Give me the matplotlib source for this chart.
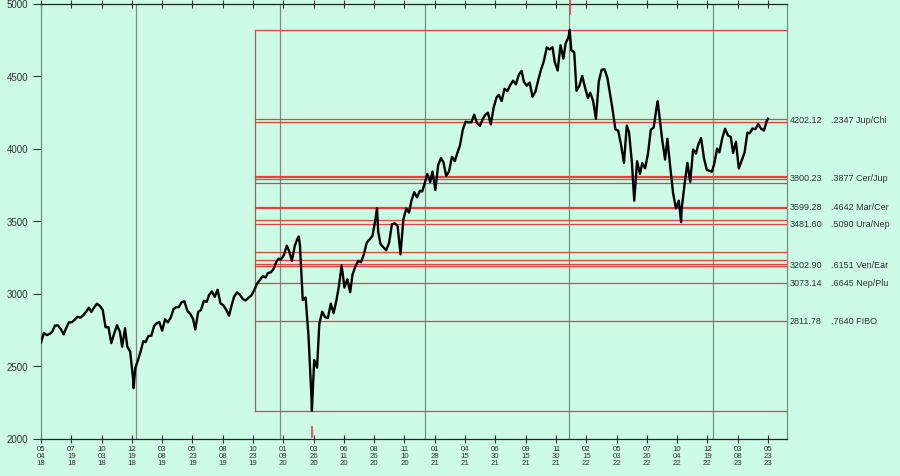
import numpy as np
import matplotlib
matplotlib.use("Agg")
from matplotlib import pyplot as plt

plt.rcParams['font.family'] = ['Liberation Sans', 'DejaVu Sans']

# weekly-ish S&P 500 closes (plus the swing extremes)
price_dates = [
    '2018-05-04', '2018-05-11', '2018-05-18', '2018-05-25', '2018-06-01', '2018-06-08', '2018-06-15', '2018-06-22',
    '2018-06-29', '2018-07-06', '2018-07-13', '2018-07-20', '2018-07-27', '2018-08-03', '2018-08-10', '2018-08-17',
    '2018-08-24', '2018-08-31', '2018-09-07', '2018-09-14', '2018-09-21', '2018-09-28', '2018-10-05', '2018-10-12',
    '2018-10-19', '2018-10-26', '2018-11-02', '2018-11-09', '2018-11-16', '2018-11-23', '2018-11-30', '2018-12-07',
    '2018-12-14', '2018-12-21', '2018-12-24', '2018-12-28',
    '2019-01-04', '2019-01-11', '2019-01-18', '2019-01-25', '2019-02-01', '2019-02-08', '2019-02-15', '2019-02-22',
    '2019-03-01', '2019-03-08', '2019-03-15', '2019-03-22', '2019-03-29', '2019-04-05', '2019-04-12', '2019-04-18',
    '2019-04-26', '2019-05-03', '2019-05-10', '2019-05-17', '2019-05-24', '2019-05-31', '2019-06-07', '2019-06-14',
    '2019-06-21', '2019-06-28', '2019-07-05', '2019-07-12', '2019-07-19', '2019-07-26', '2019-08-02', '2019-08-09',
    '2019-08-16', '2019-08-23', '2019-08-30', '2019-09-06', '2019-09-13', '2019-09-20', '2019-09-27', '2019-10-04',
    '2019-10-11', '2019-10-18', '2019-10-25', '2019-11-01', '2019-11-08', '2019-11-15', '2019-11-22', '2019-11-29',
    '2019-12-06', '2019-12-13', '2019-12-20', '2019-12-27',
    '2020-01-03', '2020-01-10', '2020-01-17', '2020-01-24', '2020-01-31', '2020-02-07', '2020-02-14', '2020-02-19',
    '2020-02-21', '2020-02-28', '2020-03-06', '2020-03-13', '2020-03-20', '2020-03-23', '2020-03-27', '2020-04-03',
    '2020-04-09', '2020-04-17', '2020-04-24', '2020-05-01', '2020-05-08', '2020-05-15', '2020-05-22', '2020-05-29',
    '2020-06-05', '2020-06-12', '2020-06-19', '2020-06-26', '2020-07-02', '2020-07-10', '2020-07-17', '2020-07-24',
    '2020-07-31', '2020-08-07', '2020-08-14', '2020-08-21', '2020-08-28', '2020-09-02', '2020-09-04', '2020-09-11',
    '2020-09-18', '2020-09-25', '2020-10-02', '2020-10-09', '2020-10-16', '2020-10-23', '2020-10-30', '2020-11-06',
    '2020-11-13', '2020-11-20', '2020-11-27', '2020-12-04', '2020-12-11', '2020-12-18', '2020-12-24', '2020-12-31',
    '2021-01-08', '2021-01-15', '2021-01-22', '2021-01-29', '2021-02-05', '2021-02-12', '2021-02-19', '2021-02-26',
    '2021-03-05', '2021-03-12', '2021-03-19', '2021-03-26', '2021-04-01', '2021-04-09', '2021-04-16', '2021-04-23',
    '2021-04-30', '2021-05-07', '2021-05-14', '2021-05-21', '2021-05-28', '2021-06-04', '2021-06-11', '2021-06-18',
    '2021-06-25', '2021-07-02', '2021-07-09', '2021-07-16', '2021-07-23', '2021-07-30', '2021-08-06', '2021-08-13',
    '2021-08-20', '2021-08-27', '2021-09-03', '2021-09-10', '2021-09-17', '2021-09-24', '2021-10-01', '2021-10-08',
    '2021-10-15', '2021-10-22', '2021-10-29', '2021-11-05', '2021-11-12', '2021-11-19', '2021-11-26', '2021-12-03',
    '2021-12-10', '2021-12-17', '2021-12-23', '2021-12-31',
    '2022-01-04', '2022-01-07', '2022-01-14', '2022-01-21', '2022-01-28', '2022-02-04', '2022-02-11', '2022-02-18',
    '2022-02-25', '2022-03-04', '2022-03-11', '2022-03-18', '2022-03-25', '2022-04-01', '2022-04-08', '2022-04-14',
    '2022-04-22', '2022-04-29', '2022-05-06', '2022-05-13', '2022-05-20', '2022-05-27', '2022-06-03', '2022-06-10',
    '2022-06-16', '2022-06-24', '2022-07-01', '2022-07-08', '2022-07-15', '2022-07-22', '2022-07-29', '2022-08-05',
    '2022-08-12', '2022-08-16', '2022-08-19', '2022-08-26', '2022-09-02', '2022-09-09', '2022-09-16', '2022-09-23',
    '2022-09-30', '2022-10-07', '2022-10-13', '2022-10-14', '2022-10-21', '2022-10-28', '2022-11-04', '2022-11-11',
    '2022-11-18', '2022-11-25', '2022-12-02', '2022-12-09', '2022-12-16', '2022-12-23', '2022-12-30',
    '2023-01-06', '2023-01-13', '2023-01-20', '2023-01-27', '2023-02-03', '2023-02-10', '2023-02-17', '2023-02-24',
    '2023-03-03', '2023-03-10', '2023-03-17', '2023-03-24', '2023-03-31', '2023-04-06', '2023-04-14', '2023-04-21',
    '2023-04-28', '2023-05-05', '2023-05-12', '2023-05-19', '2023-05-26',
]
price_close = [
    2663, 2728, 2713, 2721, 2735, 2779, 2780, 2755,
    2718, 2760, 2801, 2802, 2819, 2840, 2833, 2850,
    2875, 2902, 2872, 2904, 2930, 2914, 2886, 2767,
    2768, 2658, 2723, 2781, 2736, 2633, 2760, 2633,
    2600, 2417, 2347, 2486,
    2532, 2596, 2671, 2665, 2707, 2708, 2776, 2793,
    2804, 2743, 2822, 2801, 2834, 2893, 2907, 2905,
    2940, 2946, 2881, 2860, 2826, 2752, 2873, 2887,
    2950, 2942, 2990, 3014, 2977, 3026, 2932, 2919,
    2889, 2847, 2926, 2979, 3007, 2992, 2962, 2952,
    2970, 2986, 3023, 3067, 3093, 3120, 3110, 3141,
    3146, 3169, 3221, 3240,
    3235, 3265, 3330, 3295, 3226, 3328, 3380, 3393,
    3338, 2954, 2972, 2711, 2305, 2192, 2541, 2489,
    2790, 2875, 2837, 2831, 2930, 2864, 2955, 3044,
    3194, 3041, 3098, 3009, 3130, 3185, 3225, 3216,
    3271, 3351, 3373, 3397, 3508, 3588, 3427, 3341,
    3319, 3298, 3348, 3477, 3484, 3465, 3270, 3509,
    3585, 3558, 3638, 3699, 3663, 3709, 3703, 3756,
    3825, 3768, 3841, 3714, 3887, 3934, 3907, 3811,
    3842, 3943, 3913, 3975, 4020, 4129, 4185, 4180,
    4181, 4233, 4174, 4156, 4204, 4230, 4247, 4166,
    4281, 4352, 4370, 4327, 4412, 4395, 4437, 4468,
    4442, 4509, 4535, 4459, 4433, 4455, 4357, 4391,
    4471, 4545, 4605, 4697, 4683, 4698, 4595, 4538,
    4712, 4620, 4726, 4766,
    4818, 4677, 4663, 4398, 4432, 4501, 4419, 4349,
    4385, 4329, 4204, 4463, 4543, 4546, 4488, 4393,
    4272, 4132, 4123, 4024, 3901, 4158, 4109, 3901,
    3640, 3912, 3825, 3899, 3863, 3962, 4130, 4145,
    4280, 4325, 4228, 4058, 3924, 4067, 3873, 3693,
    3586, 3640, 3492, 3583, 3752, 3901, 3771, 3993,
    3965, 4026, 4072, 3934, 3852, 3845, 3840,
    3895, 3999, 3973, 4071, 4136, 4090, 4079, 3970,
    4046, 3862, 3917, 3971, 4109, 4105, 4138, 4133,
    4169, 4136, 4124, 4192, 4205,
]

# x axis date labels, one every 52 bars
tick_dates = [
    '2018-05-04', '2018-07-19', '2018-10-03', '2018-12-19', '2019-03-08', '2019-05-23', '2019-08-08',
    '2019-10-23', '2020-01-09', '2020-03-26', '2020-06-11', '2020-08-26', '2020-11-10', '2021-01-28',
    '2021-04-15', '2021-06-30', '2021-09-15', '2021-11-30', '2022-02-15', '2022-05-03', '2022-07-20',
    '2022-10-04', '2022-12-19', '2023-03-08', '2023-05-23',
]
year_starts = ['2019-01-02', '2020-01-02', '2021-01-04', '2022-01-03', '2023-01-03']

# range used for the levels
range_high = 4818.62
range_low = 2191.86
high_date = '2022-01-04'
low_date = '2020-03-23'
box_start = '2019-10-29'

level_values = [4202.12, 3800.23, 3599.28, 3481.60, 3202.90, 3073.14, 2811.78]
level_ratios = ['.2347', '.3877', '.4642', '.5090', '.6151', '.6645', '.7640']
level_names = ['Jup/Chi', 'Cer/Jup', 'Mar/Cer', 'Ura/Nep', 'Ven/Ear', 'Nep/Plu', 'FIBO']
extra_levels = [4183, 3812, 3790, 3760, 3590, 3509, 3288, 3233, 3192]

holidays = [
    '2018-05-28', '2018-07-04', '2018-09-03', '2018-11-22', '2018-12-05', '2018-12-25',
    '2019-01-01', '2019-01-21', '2019-02-18', '2019-04-19', '2019-05-27', '2019-07-04', '2019-09-02',
    '2019-11-28', '2019-12-25',
    '2020-01-01', '2020-01-20', '2020-02-17', '2020-04-10', '2020-05-25', '2020-07-03', '2020-09-07',
    '2020-11-26', '2020-12-25',
    '2021-01-01', '2021-01-18', '2021-02-15', '2021-04-02', '2021-05-31', '2021-07-05', '2021-09-06',
    '2021-11-25', '2021-12-24',
    '2022-01-17', '2022-02-21', '2022-04-15', '2022-05-30', '2022-06-20', '2022-07-04', '2022-09-05',
    '2022-11-24', '2022-12-26',
    '2023-01-02', '2023-01-16', '2023-02-20', '2023-04-07', '2023-05-29',
]

tick_pos = np.arange(len(tick_dates)) * 52


def tday(d):
    return np.busday_count('2018-05-04', np.array(d, dtype='datetime64[D]'), holidays=holidays)


def xpos(d):
    # place dates on the bar axis, pinned to the labelled ticks
    td = tday(tick_dates)
    return np.interp(tday(d), td, tick_pos)


def tick_text(d):
    y, m, dd = d.split('-')
    return f'{m}\n{dd}\n{y[2:]}'


bg = '#ccfce6'
red = '#e8403c'
grey = '#7d8a86'
txt = '#333333'

fig = plt.figure(figsize=(9, 4.77), dpi=100)
fig.patch.set_facecolor(bg)
ax = fig.add_axes([41 / 900, 1 - 439.5 / 477, 746 / 900, 435 / 477])
ax.set_facecolor(bg)

x_end = 746 / 0.5825
ax.set_xlim(0, x_end)
ax.set_ylim(2000, 5000)

# year separators
for d in year_starts:
    ax.axvline(xpos(d), color=grey, lw=0.9, zorder=1)

# level box
xb = xpos(box_start)
ax.plot([xb, xb], [range_low, range_high], color=red, lw=0.9, zorder=2)
for v in [range_high, range_low] + level_values + extra_levels:
    ax.plot([xb, x_end], [v, v], color=red, lw=0.9, zorder=2)

# markers at the high and low dates
ax.plot([xpos(high_date)] * 2, [4930, 5035], color=red, lw=1.2, clip_on=False, zorder=3)
ax.plot([xpos(low_date)] * 2, [2010, 2080], color=red, lw=1.2, clip_on=False, zorder=3)

# price
ax.plot(xpos(price_dates), price_close, color='black', lw=1.7, zorder=4)

# right hand labels
for v, r, n in zip(level_values, level_ratios, level_names):
    ax.text(x_end + 5, v, f'{v:.2f}', fontsize=6.5, color=txt, va='center', ha='left', clip_on=False)
    ax.text(x_end + 75, v, f'{r} {n}', fontsize=6.5, color=txt, va='center', ha='left', clip_on=False)

ax.set_yticks([2000, 2500, 3000, 3500, 4000, 4500, 5000])
ax.set_xticks(tick_pos)
ax.set_xticklabels([tick_text(d) for d in tick_dates], fontsize=5.6, color=txt, linespacing=0.95)
ax.tick_params(axis='y', labelsize=7, labelcolor=txt, length=6, color=txt, pad=3)
ax.tick_params(axis='x', direction='inout', length=6, color=txt, pad=2, top=True)

ax.spines['left'].set_color(grey)
ax.spines['right'].set_color(grey)
ax.spines['top'].set_color('#222222')
ax.spines['bottom'].set_color('#222222')
for s in ax.spines.values():
    s.set_linewidth(0.9)

fig.savefig('out.png', dpi=100, facecolor=bg)
